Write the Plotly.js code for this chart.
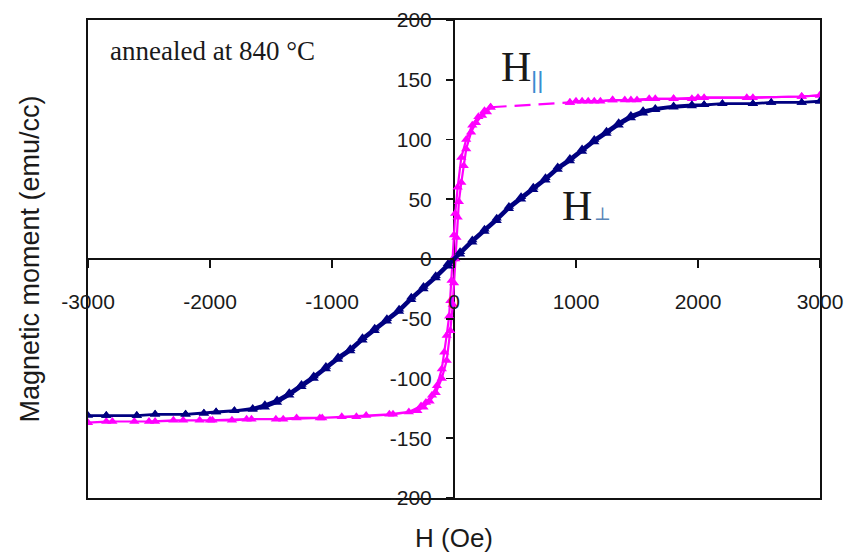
<!DOCTYPE html>
<html>
<head>
<meta charset="utf-8">
<script src="https://cdn.plot.ly/plotly-3.0.1.min.js"></script>
<style>html,body{margin:0;padding:0;background:#fff;}#chart{width:850px;height:559px;}</style>
</head>
<body>
<div id="chart"></div>
<script>
// H_perp (navy) loop: descending branch then ascending branch
var perpH = [3000, 2850, 2600, 2450, 2200, 2050, 1950, 1800, 1650, 1550, 1450, 1350, 1250, 1150, 1050, 950, 850, 750, 650, 550, 450, 350, 250, 150, 50, -50, -150, -250, -350, -450, -550, -650, -750, -850, -950, -1050, -1150, -1250, -1350, -1450, -1550, -1650, -1800, -1950, -2050, -2200, -2450, -2600, -2850, -3000,
             -2850, -2600, -2450, -2200, -2050, -1950, -1800, -1650, -1550, -1450, -1350, -1250, -1150, -1050, -950, -850, -750, -650, -550, -450, -350, -250, -150, -50, 50, 150, 250, 350, 450, 550, 650, 750, 850, 950, 1050, 1150, 1250, 1350, 1450, 1550, 1650, 1800, 1950, 2050, 2200, 2450, 2600, 2850, 3000];
var perpM = [132, 131, 131, 130, 130, 129, 129, 128, 126, 124, 120, 114, 107, 100, 92, 84, 77, 68, 60, 52, 44, 34, 25, 16, 6, -4, -14, -23, -32, -42, -50, -58, -66, -75, -82, -90, -98, -105, -112, -118, -122, -125, -127, -128, -129, -130, -130, -131, -131, -131,
             -131, -131, -130, -130, -129, -128, -127, -126, -124, -120, -114, -107, -100, -92, -84, -77, -68, -60, -52, -44, -34, -25, -16, -6, 4, 14, 23, 32, 42, 50, 58, 66, 75, 82, 90, 98, 105, 112, 118, 122, 125, 127, 128, 129, 130, 130, 131, 131, 132];

// H_parallel (magenta) loop: descending branch (3000 -> 950), gap, (300 -> -3000), then ascending branch
var parH = [3000, 2850, 2450, 2050, 1950, 1800, 1650, 1500, 1400, 1300, 1200, 1100, 1000, 950, null,
            300, 250, 200, 150, 100, 60, 30, 10, 0, -10, -20, -30, -40, -60, -80, -100, -140, -180, -230, -270, -370, -530, -720, -920, -1080, -1290, -1460, -1660, -1820, -1980, -2085, -2220, -2450, -2620, -2850, -3000,
            -2800, -2500, -2300, -2000, -1700, -1400, -1100, -800, -500, -300, -250, -200, -150, -100, -60, -30, -10, 0, 10, 20, 30, 40, 60, 80, 100, 140, 180, 230, 270, 300, null,
            950, 1050, 1150, 1300, 1450, 1600, 1800, 2000, 2400, 2850, 3000];
var parM = [137, 136, 135, 135, 134, 134, 134, 133, 133, 133, 132, 132, 132, 131, null,
            127, 124, 119, 112, 100, 85, 60, 38, 20, 0, -18, -35, -48, -64, -78, -92, -106, -114, -120, -123, -128, -130, -131, -132, -133, -133, -134, -134, -135, -135, -135, -135, -136, -136, -136, -137,
            -136, -136, -135, -135, -134, -134, -133, -132, -130, -127, -124, -119, -112, -100, -85, -60, -38, -20, 0, 18, 35, 48, 64, 78, 92, 106, 114, 120, 123, 127, null,
            131, 132, 132, 133, 133, 134, 134, 135, 135, 136, 137];

// dashed connection where the parallel loop has no readings
var gapH = [300, 950];
var gapM = [127, 131];

var xTicks = [-3000, -2000, -1000, 0, 1000, 2000, 3000];
var yTicks = [-200, -150, -100, -50, 0, 50, 100, 150, 200];

var pink = '#ff00ff', navy = '#000080';

var traces = [
  {x: gapH, y: gapM, xaxis: 'x', yaxis: 'y', mode: 'lines', line: {color: pink, width: 2.2, dash: '16px,8px'}, hoverinfo: 'skip', showlegend: false},
  {x: parH, y: parM, xaxis: 'x2', yaxis: 'y2', mode: 'lines+markers', connectgaps: false,
   line: {color: pink, width: 2.2}, marker: {symbol: 'triangle-up', size: 9, color: pink}, showlegend: false},
  {x: perpH, y: perpM, xaxis: 'x2', yaxis: 'y2', mode: 'lines+markers',
   line: {color: navy, width: 2.8}, marker: {symbol: 'triangle-up', size: 9, color: navy}, showlegend: false}
];

var tickFont = {family: '"Liberation Sans", Arial, sans-serif', size: 21, color: '#1a1a1a'};
var titleFontFamily = '"Liberation Sans", Arial, sans-serif';
var serif = '"Liberation Serif", "Times New Roman", serif';

var layout = {
  width: 850, height: 559,
  margin: {l: 88, r: 30, t: 20, b: 61},
  paper_bgcolor: '#fff', plot_bgcolor: '#fff',
  showlegend: false,
  xaxis: {range: [-3000, 3000], showline: true, mirror: true, linecolor: '#111', linewidth: 1.6,
          ticks: '', showticklabels: false, showgrid: false, zeroline: true, zerolinecolor: '#111', zerolinewidth: 1.6,
          title: {text: 'H (Oe)', font: {family: titleFontFamily, size: 26, color: '#1a1a1a'}, standoff: 30}},
  yaxis: {range: [-200, 200], showline: true, mirror: true, linecolor: '#111', linewidth: 1.6,
          ticks: '', showticklabels: false, showgrid: false, zeroline: true, zerolinecolor: '#111', zerolinewidth: 1.6,
          title: {text: 'Magnetic moment (emu/cc)', font: {family: titleFontFamily, size: 27, color: '#1a1a1a'}, standoff: 39}},
  xaxis2: {overlaying: 'x', anchor: 'free', position: 0.5, range: [-3000, 3000], side: 'bottom',
           tickmode: 'array', tickvals: xTicks, ticktext: xTicks.map(String), ticks: 'outside', ticklen: 8, tickwidth: 1.6, tickcolor: '#111',
           showline: false, showgrid: false, zeroline: false, tickfont: tickFont, ticklabelstandoff: 16},
  yaxis2: {overlaying: 'y', anchor: 'free', position: 0.5, range: [-200, 200], side: 'left',
           tickmode: 'array', tickvals: yTicks, ticktext: yTicks.map(String), ticks: 'outside', ticklen: 8, tickwidth: 1.6, tickcolor: '#111',
           showline: false, showgrid: false, zeroline: false, tickfont: tickFont, ticklabelstandoff: 10},
  annotations: [
    {xref: 'paper', yref: 'paper', x: 0.028, y: 0.935, xanchor: 'left', yanchor: 'middle', showarrow: false,
     text: 'annealed at 840 °C', font: {family: serif, size: 27, color: '#1a1a1a'}},
    {xref: 'x', yref: 'y', x: 508, y: 161, xanchor: 'center', yanchor: 'middle', showarrow: false,
     text: 'H', font: {family: serif, size: 42, color: '#1a1a1a'}},
    {xref: 'x', yref: 'y', x: 680, y: 150, xanchor: 'center', yanchor: 'middle', showarrow: false,
     text: '||', font: {family: titleFontFamily, size: 24, color: '#3a8cd0'}},
    {xref: 'x', yref: 'y', x: 1008, y: 44, xanchor: 'center', yanchor: 'middle', showarrow: false,
     text: 'H', font: {family: serif, size: 42, color: '#1a1a1a'}},
    {xref: 'x', yref: 'y', x: 1215, y: 38, xanchor: 'center', yanchor: 'middle', showarrow: false,
     text: '⊥', font: {family: '"DejaVu Serif", serif', size: 18, color: '#5a86b8'}}
  ]
};

Plotly.newPlot('chart', traces, layout, {displayModeBar: false, staticPlot: true});
</script>
</body>
</html>
